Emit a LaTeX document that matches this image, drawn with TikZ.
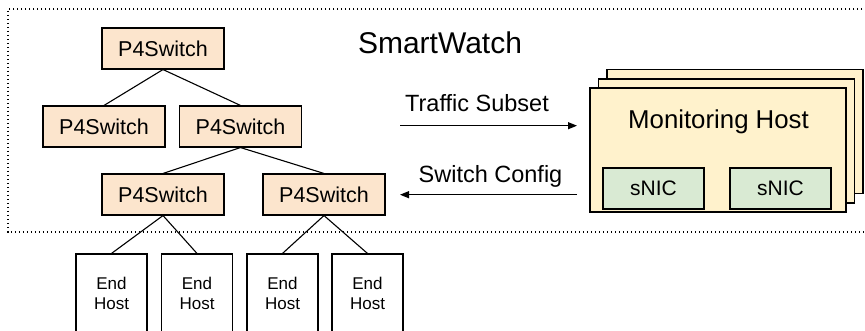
\documentclass[tikz,border=0pt]{standalone}
\usepackage{fontspec}
\setmainfont{Liberation Sans}
\usetikzlibrary{arrows.meta}
\definecolor{swfill}{HTML}{FCE5CD}
\definecolor{hostfill}{HTML}{FFF2CC}
\definecolor{nicfill}{HTML}{D9EAD3}
\begin{document}
\begin{tikzpicture}[x=1pt,y=-1pt,
  sw/.style={draw, fill=swfill, line width=1.1pt, minimum width=122pt, minimum height=41pt, inner sep=0pt, font=\fontsize{21.5}{24}\selectfont},
  eh/.style={draw, line width=1.1pt, minimum width=71pt, minimum height=79pt, inner sep=0pt, align=center, font=\fontsize{17}{20.7}\selectfont},
  mh/.style={draw, fill=hostfill, line width=1.1pt, minimum width=256pt, minimum height=124pt, inner sep=0pt},
  nic/.style={draw, fill=nicfill, line width=1.1pt, minimum width=101pt, minimum height=41pt, inner sep=0pt, font=\fontsize{21}{24}\selectfont},
  link/.style={line width=1.1pt},
  flow/.style={line width=1.1pt, -{Triangle[length=9pt,width=7pt]}},
  lbl/.style={inner sep=0pt, anchor=base, font=\fontsize{23.5}{26}\selectfont},
  boundary/.style={line width=1.2pt, dash pattern=on 1.2pt off 2.8pt},
]
\path[use as bounding box] (0,0) rectangle (865,331);
\clip (0,0) rectangle (865,331);

% SmartWatch boundary
\draw[boundary] (870,9) -- (8,9) -- (8,232) -- (870,232);
\node[inner sep=0pt, anchor=base, font=\fontsize{30}{34}\selectfont] (title) at (440,53.3) {SmartWatch};

% switches
\node[sw] (s1) at (163,48.5) {P4Switch};
\node[sw] (s2) at (104,126.5) {P4Switch};
\node[sw] (s3) at (240.5,126.5) {P4Switch};
\node[sw] (s4) at (163,194.5) {P4Switch};
\node[sw] (s5) at (324,194.5) {P4Switch};

% end hosts
\node[eh] (h1) at (111.5,293.5) {End\\Host};
\node[eh] (h2) at (197,293.5) {End\\Host};
\node[eh] (h3) at (282.5,293.5) {End\\Host};
\node[eh] (h4) at (367.5,293.5) {End\\Host};

\draw[link] (s1.south) -- (s2.north);
\draw[link] (s1.south) -- (s3.north);
\draw[link] (s3.south) -- (s4.north);
\draw[link] (s3.south) -- (s5.north);
\draw[link] (s4.south) -- (h1.north);
\draw[link] (s4.south) -- (h2.north);
\draw[link] (s5.south) -- (h3.north);
\draw[link] (s5.south) -- (h4.north);

% monitoring host stack
\node[mh] (m3) at (735,131.5) {};
\node[mh] (m2) at (726.5,141) {};
\node[mh] (m1) at (718,150) {};
\node[lbl, font=\fontsize{25.8}{28}\selectfont] (mhl) at (718.5,128.3) {Monitoring Host};
\node[nic] (n1) at (653.5,188.5) {sNIC};
\node[nic] (n2) at (780.5,188.5) {sNIC};

% flows
\coordinate (a1) at (400,125.7);
\coordinate (a2) at (577,125.7);
\coordinate (b1) at (577,194.7);
\coordinate (b2) at (400,194.7);
\draw[flow] (a1) -- (a2);
\draw[flow] (b1) -- (b2);
\node[lbl] (tl) at (477,111.7) {Traffic Subset};
\node[lbl] (cl) at (490.5,182.3) {Switch Config};
\end{tikzpicture}
\end{document}
